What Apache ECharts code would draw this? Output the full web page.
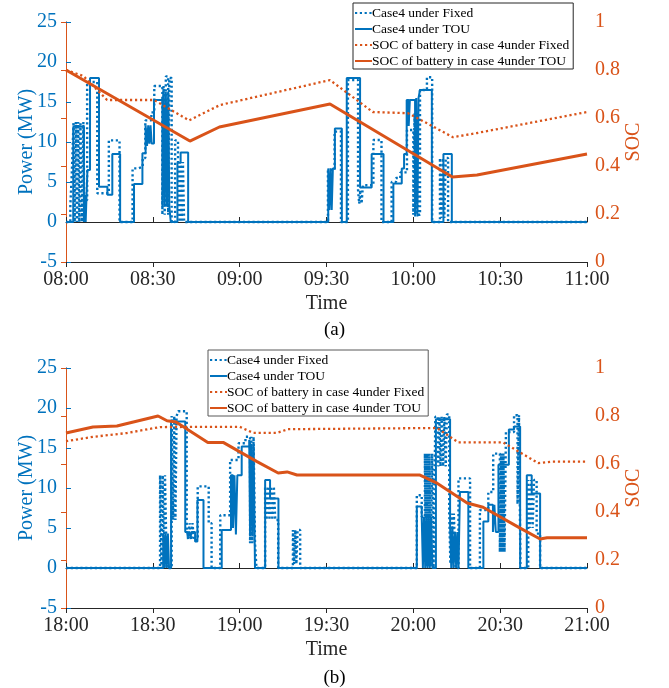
<!DOCTYPE html>
<html>
<head>
<meta charset="utf-8">
<script src="https://cdn.jsdelivr.net/npm/echarts@6/dist/echarts.min.js"></script>
<style>
  html, body { margin: 0; padding: 0; background: #fff; }
  #main { width: 669px; height: 688px; }
</style>
</head>
<body>
<div id="main"></div>
<script>
// time in minutes from the start of each window, values held until next point
const ticksA = ['08:00', '08:30', '09:00', '09:30', '10:00', '10:30', '11:00'];
const ticksB = ['18:00', '18:30', '19:00', '19:30', '20:00', '20:30', '21:00'];
const legendNames = ['Case4 under Fixed', 'Case4 under TOU', 'SOC of battery in case 4under Fixed', 'SOC of battery in case 4under TOU'];

// (a) 08:00 - 11:00
const aFixPower = [[0,0],[1.5,2],[2,6],[2.6,12.5],[3,0],[3.4,12.5],[3.8,0],[4.2,12.5],[4.6,0],[5,12.5],[5.5,0],[6,12.5],
  [6.3,2.75],[7.3,17.5],[10.8,3.6],[14.8,10.2],[18.5,0],[23,6.7],[25,6.9],[26.5,8],[27.4,12.7],[29.5,13.7],[30.5,17],
  [33.3,0.9],[33.7,17],[34.1,0.9],[34.5,18.2],[35.3,0.9],[35.7,18],[36.5,0],[37.7,10.2],[38.7,7.5],[39.2,0],[39.6,7.5],
  [40,0],[40.4,7.5],[40.8,0],
  [90.5,6.5],[92.8,11.3],[95,0],[97.4,17.75],[100.9,4],[101.3,2.3],[101.7,4],[102.1,2.3],[102.6,4.6],[106.2,10.25],
  [109,0],[112.5,5],[114,5.5],[115.5,6.2],[117.8,11.5],[120,0.9],[120.4,13.6],[120.8,0.9],[121.2,13.6],[121.6,0.9],
  [122.3,16.5],[124.7,18.1],[126.5,0],[129.2,8],[129.7,0.5],[130.2,8],[130.7,0.5],[131.2,8],[132,0],[180,0]];
const aTouPower = [[0,0],[2.5,11.9],[6.2,0],[6.5,3.4],[6.8,0],[7.1,3.4],[7.4,6.5],[8.3,18],[11.4,4.4],[14.3,3.4],
  [16,8.5],[18.7,0],[23.5,4.75],[26.4,8.6],[27.5,12.1],[28,9.5],[28.4,12.1],[28.8,9.8],[29.2,12.1],[29.6,9.8],
  [30.4,15.25],[33.3,1.9],[33.7,16.3],[34.1,1.9],[34.5,16.3],[34.9,1.9],[35.3,16.3],[35.7,1.9],[36.2,0],[38.5,7.4],
  [39.6,8.7],[42.2,0],
  [90.6,6.7],[91,1.5],[91.4,6.7],[91.8,1.5],[92.2,6.7],[92.9,11.7],[95.3,0],[97,18],[101.6,4.3],[105.6,8.5],[109.7,0],
  [113.1,4.8],[116,6.7],[116.8,8.5],[117.7,15.25],[118.4,12],[118.8,15.25],[120.6,0.7],[121,15.5],[121.4,0.7],
  [121.8,15.5],[122.3,16.5],[126.4,0],[130.4,8.5],[133.3,0],[180,0]];
const aFixSoc = [[0,0.8],[6,0.775],[14.2,0.675],[30.4,0.675],[42.5,0.59],[53.2,0.654],[91.2,0.758],[106,0.625],
  [118.2,0.62],[133.7,0.52],[142,0.5375],[180,0.625]];
const aTouSoc = [[0,0.8],[42.8,0.504],[53,0.5625],[91.2,0.658],[133.5,0.354],[142,0.3625],[180,0.45]];

// (b) 18:00 - 21:00
const bFixPower = [[0,0],[32.5,11.6],[33,0],[33.4,11.6],[33.8,0],[34.2,11.6],[34.8,0],[36.5,19],[37,6],[37.4,19],
  [37.8,6],[38.2,19],[38.8,19.6],[41.7,5.6],[42.2,3.5],[42.7,5.6],[43.2,3.5],[43.7,5.6],[44.2,3.5],[45.5,10.2],
  [49.3,5.6],[50.3,0],[53.3,6.6],[56.7,13.5],[59.6,15.6],[62,16.4],[63.6,3.1],[64,16.4],[64.4,3.1],[64.8,16.4],
  [65.3,3.1],[65.8,0],[68.8,10.2],[69.3,6],[69.8,10.2],[70.3,6],[70.8,10.2],[71.3,6],[71.8,10.2],[72.3,6],[73.3,0],
  [78.4,4.75],[78.8,0.5],[79.2,4.75],[79.6,0.5],[80,4.75],[80.9,0],
  [121.2,9.1],[122.9,6.4],[124,14.3],[124.4,0.2],[124.8,14.3],[125.2,0.2],[125.6,14.3],[126,0.2],[126.5,14.3],
  [127,0],[127.6,18.9],[128.6,12.7],[129,18.9],[129.4,12.7],[129.8,18.9],[130.3,12.7],[130.7,18.9],[131.2,12.7],
  [131.6,19.2],[132.4,6.8],[132.8,0.5],[133.2,6.8],[133.6,0.5],[134,6.8],[134.6,0],[135.6,11.2],[139.6,0],[143,7.25],
  [145.9,9.5],[147.6,14.3],[149.9,2],[150.3,14.3],[150.7,2],[151.1,14.3],[151.5,2],[152,17],[154.8,19.1],[156,8],
  [156.5,19.1],[157,0],[159.7,11],[160.2,5],[160.7,11],[161.2,5],[161.7,11],[162.6,4.3],[163.8,0],[180,0]];
const bTouPower = [[0,0],[33.6,4.3],[34,0],[34.4,4.3],[34.8,0],[35.2,4.3],[35.6,0],[36.3,18.3],[41.2,4.5],[42,3.9],
  [42.5,4.5],[43,3.9],[43.5,4.5],[44.6,3.3],[45.4,8.5],[47.5,0],[53.8,4.75],[57,11.6],[57.7,5],[58.2,11.6],[58.7,4.2],
  [59.2,11.6],[60.7,15.2],[63.3,16],[63.6,4],[64,15.5],[64.4,4],[64.8,15.5],[65.3,0],[68.8,11],[70.5,8.7],[73.4,0],
  [121.2,7.7],[122.9,6.4],[123.3,0],[123.7,6.4],[124.1,0],[124.5,6.4],[124.9,0],[125.3,6.4],[125.7,0],[126.1,6.4],
  [126.6,0],[127.8,18.6],[132.7,5.2],[133.1,0],[133.5,5.2],[133.9,0],[134.4,4.5],[134.8,0],[135.2,4.5],[135.6,0],
  [136.1,9.5],[139,0],[144.2,5.8],[145.9,7.9],[147.5,4.5],[148,7.9],[148.5,4.5],[149.4,12.9],[153,17.3],[154.8,17.7],
  [156.9,0],[159.2,11.6],[160.9,9.3],[163.8,0],[180,0]];
const bFixSoc = [[0,0.695],[9.3,0.713],[21,0.729],[32.5,0.754],[60,0.755],[64.6,0.73],[72.9,0.73],[76.7,0.745],
  [128.2,0.75],[135.5,0.69],[151,0.69],[163.1,0.604],[168,0.61],[180,0.61]];
const bTouSoc = [[0,0.729],[9.3,0.754],[17.6,0.758],[31.8,0.8],[34.9,0.78],[38,0.775],[49,0.69],[54.3,0.69],[66,0.61],
  [73.3,0.5625],[76.4,0.567],[79.8,0.554],[122.3,0.554],[128.2,0.52],[138.6,0.4375],[144.1,0.42],[156.9,0.333],
  [163.8,0.2875],[166.2,0.293],[180,0.293]];

const BLUE = '#0072BD';
const ORANGE = '#D95319';
const FONT = 'Liberation Serif';

function xBottom(grid, ticks) {
  return {
    type: 'value', gridIndex: grid, min: 0, max: 180, interval: 30, position: 'bottom',
    name: 'Time', nameLocation: 'middle', nameGap: 32,
    nameTextStyle: { fontFamily: FONT, fontSize: 20, color: '#262626' },
    axisLine: { lineStyle: { color: '#262626', width: 1 } },
    axisTick: { inside: true, length: 5, lineStyle: { color: '#262626' } },
    axisLabel: { fontFamily: FONT, fontSize: 20, color: '#262626', margin: 8,
      formatter: v => ticks[Math.round(v / 30)] },
    splitLine: { show: false }
  };
}
function xTop(grid) {
  return {
    type: 'value', gridIndex: grid, min: 0, max: 180, interval: 30, position: 'top',
    axisLine: { lineStyle: { color: '#262626', width: 1 } },
    axisTick: { inside: true, length: 5, lineStyle: { color: '#262626' } },
    axisLabel: { show: false }, splitLine: { show: false }
  };
}
function yLeft(grid) {
  return {
    type: 'value', gridIndex: grid, min: -5, max: 25, interval: 5, position: 'left',
    name: 'Power (MW)', nameLocation: 'middle', nameGap: 29, nameMoveOverlap: false,
    nameTextStyle: { fontFamily: FONT, fontSize: 20, color: BLUE },
    axisLine: { show: true, lineStyle: { color: BLUE, width: 1 } },
    axisTick: { show: true, inside: true, length: 5, lineStyle: { color: BLUE } },
    axisLabel: { fontFamily: FONT, fontSize: 20, color: BLUE, margin: 9 },
    splitLine: { show: false }
  };
}
function yRight(grid) {
  return {
    type: 'value', gridIndex: grid, min: 0, max: 1, interval: 0.2, position: 'right',
    name: 'SOC', nameLocation: 'middle', nameGap: 37, nameRotate: 90, nameMoveOverlap: false,
    nameTextStyle: { fontFamily: FONT, fontSize: 20, color: ORANGE },
    axisLine: { show: true, lineStyle: { color: ORANGE, width: 1 } },
    axisTick: { show: true, inside: true, length: 5, lineStyle: { color: ORANGE } },
    axisLabel: { fontFamily: FONT, fontSize: 20, color: ORANGE, margin: 8 },
    splitLine: { show: false }
  };
}
function lines(xi, yiL, yiR, fixP, touP, fixS, touS) {
  return [
    { name: legendNames[0], type: 'line', step: 'end', xAxisIndex: xi, yAxisIndex: yiL, data: fixP,
      symbol: 'none', lineStyle: { color: BLUE, width: 2.4, type: [2.2, 2.6] }, itemStyle: { color: BLUE } },
    { name: legendNames[1], type: 'line', step: 'end', xAxisIndex: xi, yAxisIndex: yiL, data: touP,
      symbol: 'none', lineStyle: { color: BLUE, width: 2 }, itemStyle: { color: BLUE } },
    { name: legendNames[2], type: 'line', xAxisIndex: xi, yAxisIndex: yiR, data: fixS,
      symbol: 'none', lineStyle: { color: ORANGE, width: 2.3, type: [2.2, 2.8] }, itemStyle: { color: ORANGE } },
    { name: legendNames[3], type: 'line', xAxisIndex: xi, yAxisIndex: yiR, data: touS,
      symbol: 'none', lineStyle: { color: ORANGE, width: 3 }, itemStyle: { color: ORANGE } }
  ];
}
function legend(left, top, border) {
  return {
    data: legendNames, orient: 'vertical', left: left, top: top,
    itemWidth: 17, itemHeight: 14, itemGap: 2, padding: [3, 4, 1, 1],
    borderColor: border, borderWidth: 1, backgroundColor: '#fff',
    selectedMode: false,
    itemStyle: { opacity: 0, color: 'transparent', borderWidth: 0 },
    textStyle: { fontFamily: FONT, fontSize: 13.5, color: '#000', lineHeight: 14, padding: [0, 0, 0, -5] }
  };
}

const option = {
  animation: false,
  backgroundColor: '#fff',
  title: [
    { text: '(a)', left: 'center', top: 316, textStyle: { fontFamily: FONT, fontSize: 19, fontWeight: 'normal', color: '#000' } },
    { text: '(b)', left: 'center', top: 664, textStyle: { fontFamily: FONT, fontSize: 19, fontWeight: 'normal', color: '#000' } }
  ],
  grid: [
    { left: 66, right: 82, top: 22, height: 240 },
    { left: 66, right: 82, top: 368, height: 240 }
  ],
  xAxis: [xBottom(0, ticksA), xTop(0), xBottom(1, ticksB), xTop(1)],
  yAxis: [yLeft(0), yRight(0), yLeft(1), yRight(1)],
  legend: [legend(353, 3, '#262626'), legend(208, 350, '#595959')],
  series: [].concat(
    lines(0, 0, 1, aFixPower, aTouPower, aFixSoc, aTouSoc),
    lines(2, 2, 3, bFixPower, bTouPower, bFixSoc, bTouSoc)
  )
};

let myChart = echarts.init(document.getElementById('main'));
myChart.setOption(option);
window.addEventListener('resize', function () { myChart.resize(); }, false);
</script>
</body>
</html>
